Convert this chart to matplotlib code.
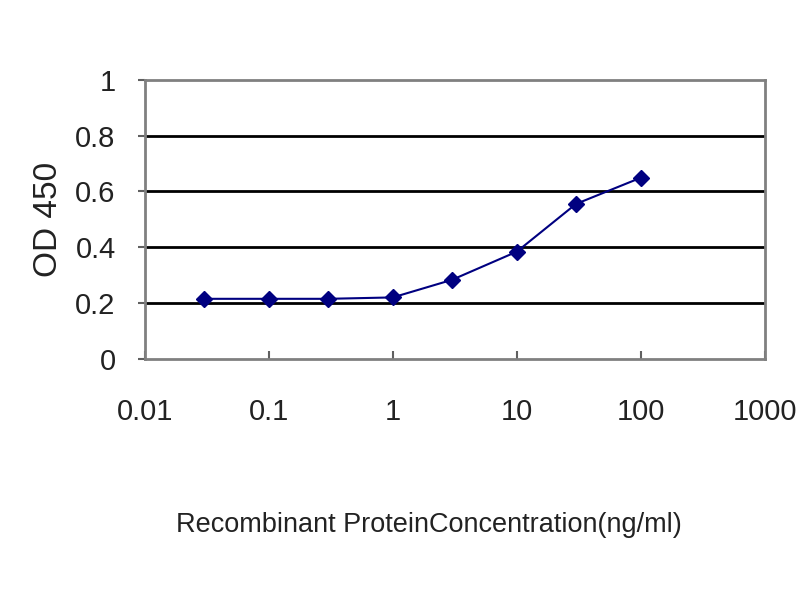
import matplotlib
matplotlib.use("Agg")
import matplotlib.pyplot as plt
from matplotlib.ticker import FixedLocator, FixedFormatter, NullLocator

conc = [0.03, 0.1, 0.3, 1, 3, 10, 30, 100]
od450 = [0.215, 0.215, 0.215, 0.22, 0.283, 0.384, 0.555, 0.649]
xticks = [0.01, 0.1, 1, 10, 100, 1000]
xticklabels = ["0.01", "0.1", "1", "10", "100", "1000"]
yticks = [0, 0.2, 0.4, 0.6, 0.8, 1]
yticklabels = ["0", "0.2", "0.4", "0.6", "0.8", "1"]

plt.rcParams['font.family'] = ['Liberation Sans', 'DejaVu Sans']

fig = plt.figure(figsize=(8, 6), dpi=100)
ax = fig.add_axes([0.181, 0.402, 0.775, 0.465])
ax.set_xscale('log')
ax.set_xlim(0.01, 1000)
ax.set_ylim(0, 1)

for y in yticks[1:-1]:
    ax.axhline(y, color='black', lw=2, zorder=1)

ax.plot(conc, od450, color='#000080', lw=1.5, marker='D', markersize=8,
        markerfacecolor='#000080', markeredgecolor='#000080', zorder=3)

for s in ax.spines.values():
    s.set_color('#808080')
    s.set_linewidth(2)

ax.xaxis.set_major_locator(FixedLocator(xticks))
ax.xaxis.set_major_formatter(FixedFormatter(xticklabels))
ax.xaxis.set_minor_locator(NullLocator())
ax.yaxis.set_major_locator(FixedLocator(yticks))
ax.yaxis.set_major_formatter(FixedFormatter(yticklabels))

ax.tick_params(axis='x', direction='in', length=6, width=1.5, color='#606060',
               labelsize=21, pad=28, labelcolor='#222222')
ax.tick_params(axis='y', direction='out', length=5, width=1.5, color='#606060',
               labelsize=21, pad=16, labelcolor='#222222')

ax.set_ylabel('OD 450', fontsize=24, color='#222222', labelpad=8)
fig.text(0.536, 0.125, 'Recombinant ProteinConcentration(ng/ml)', ha='center',
         va='center', fontsize=19.5, color='#222222')

fig.savefig('out.png', dpi=100, facecolor='white')
